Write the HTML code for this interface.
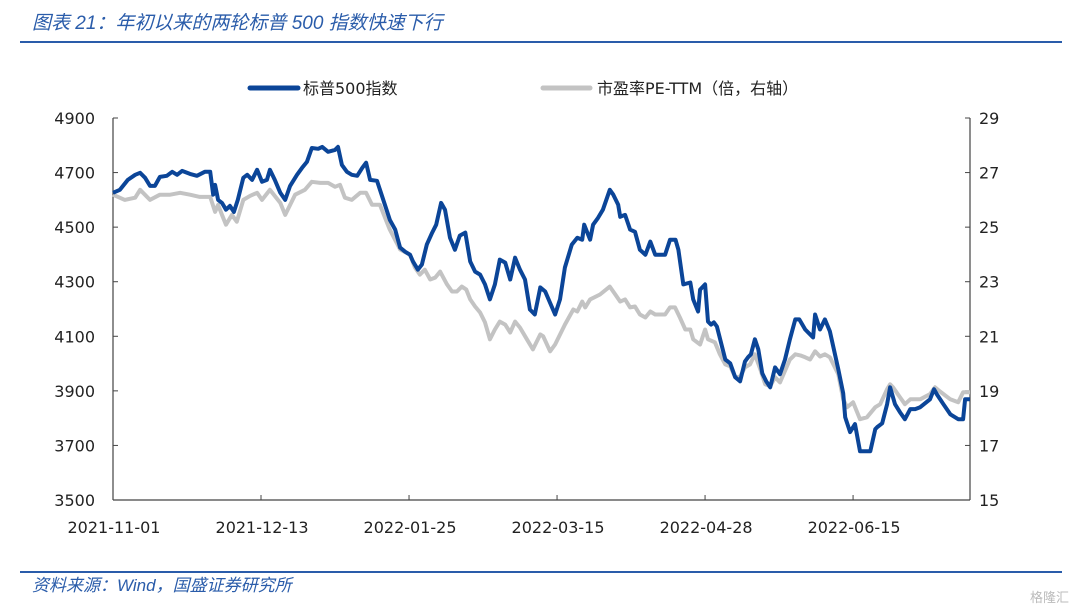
<!DOCTYPE html>
<html><head><meta charset="utf-8">
<style>
body{margin:0;width:1080px;height:613px;background:#fff;overflow:hidden;font-family:"Liberation Sans","Noto Sans CJK SC",sans-serif;}
svg{display:block}
.lab{font-family:"DejaVu Sans","Noto Sans CJK SC",sans-serif;}
</style></head><body>
<svg id="chart" width="1080" height="613">
<text x="32" y="29" font-size="19" font-style="italic" fill="#2a5caa" font-family="Liberation Sans, Noto Sans CJK SC, sans-serif">图表 21：年初以来的两轮标普 500 指数快速下行</text>
<rect x="20" y="41" width="1042" height="2" fill="#2a5caa"/>
<rect x="20" y="571" width="1042" height="2" fill="#2a5caa"/>
<text x="32" y="591" font-size="17" font-style="italic" fill="#2a5caa">资料来源：Wind，国盛证券研究所</text>
<text x="1030" y="602" font-size="13" fill="#bbb">格隆汇</text>
<g>
<line x1="250" y1="88" x2="298" y2="88" stroke="#0b4598" stroke-width="5" stroke-linecap="round"/>
<text class="lab" x="303" y="94" font-size="16" fill="#222">标普500指数</text>
<line x1="543" y1="88" x2="590" y2="88" stroke="#c3c3c3" stroke-width="5" stroke-linecap="round"/>
<text class="lab" x="597" y="94" font-size="16" fill="#222">市盈率PE-TTM（倍，右轴）</text>
</g>
<g id="axes" class="lab"></g>
<g id="series"></g>
</svg>
<script>
const xTickDays=[0,30,60,90,120,150];
const xTickLabels=["2021-11-01","2021-12-13","2022-01-25","2022-03-15","2022-04-28","2022-06-15"];
const leftTicks=[3500,3700,3900,4100,4300,4500,4700,4900];
const rightTicks=[15,17,19,21,23,25,27,29];
const spxDays=[0,1.4,3,4.5,5.5,6.5,7.5,8.5,9.5,10.9,12,13,14,15.6,17,18.6,19.7,20.3,20.7,21.3,22.1,22.9,23.7,24.5,25.3,26.4,27.2,28.2,29.2,30.2,31.2,31.8,32.8,33.9,34.9,35.9,37.3,38.3,39.3,40.3,41.6,42.4,43.6,45,45.6,46.4,47.4,48.4,49.5,50.5,51.3,52.1,53.5,55.1,56.1,57.2,58.2,59.2,60.2,60.8,61.8,62.6,63.6,64.7,65.5,66.5,67.3,68.3,69.3,70.3,71.4,72.4,73.4,74.4,75.4,76.4,77.4,78.4,79.5,80.5,81.5,82.5,83.5,84.5,85.5,86.6,87.6,89.6,90.6,91.6,93,94.1,95.1,95.5,96.7,97.3,98.3,99.3,100.7,101.4,102.4,102.8,103.8,104.8,105.8,106.8,107.9,108.9,109.9,111.9,112.9,114,114.6,115.6,117,117.6,118.6,119,120,120.6,121.2,121.8,122.4,124.1,125.1,126.1,127.1,128.1,128.7,129.3,130.1,130.8,131.6,132.4,133.2,134.2,135.2,136.2,137.2,138.3,139.1,140.3,141.9,142.3,143.3,144.3,145.3,147,148,148.4,149.4,150.4,151.4,152.4,153.5,154.5,154.9,155.9,156.9,157.5,158.5,159.5,160.5,161.6,162.6,163.6,165.6,166.4,167,168.3,169.7,171.3,172.3,172.7,173.7];
const spxValues=[4626,4637,4673,4692,4699,4681,4651,4651,4684,4688,4703,4692,4706,4695,4688,4703,4703,4619,4655,4600,4589,4564,4578,4556,4600,4681,4692,4673,4710,4666,4673,4710,4673,4626,4600,4651,4692,4717,4739,4790,4787,4794,4776,4783,4794,4728,4703,4692,4688,4717,4736,4673,4670,4582,4527,4491,4425,4410,4399,4374,4344,4363,4436,4480,4509,4589,4564,4461,4417,4469,4480,4374,4337,4326,4290,4235,4290,4381,4370,4308,4388,4344,4308,4198,4180,4279,4264,4180,4235,4352,4436,4461,4454,4509,4454,4509,4534,4564,4637,4619,4582,4538,4545,4491,4483,4417,4399,4447,4399,4399,4454,4454,4417,4290,4297,4235,4191,4271,4290,4154,4143,4151,4136,4015,4001,3950,3935,4008,4023,4034,4089,4052,3964,3935,3913,3986,3961,4015,4089,4162,4162,4125,4096,4180,4125,4162,4118,3979,3891,3803,3749,3778,3679,3679,3679,3760,3767,3781,3851,3913,3851,3822,3796,3833,3833,3840,3869,3906,3887,3851,3814,3796,3796,3869,3869];
const peDays=[0,2.4,4.5,5.5,7.5,9.5,11.6,13.6,15.6,17.6,19.7,20.7,21.3,22.1,22.9,24.1,25.1,26.4,27.8,29.2,30.2,31.8,33.9,34.9,36.9,38.9,40.3,42,43.6,45,46,47,48.4,50.1,51.3,52.5,54.1,56.1,58.2,60.2,61.2,62.2,63.2,64.3,65.3,66.3,67.7,68.7,69.7,70.7,71.6,72.4,73.4,74.4,75.4,76.4,77.4,78.4,79.5,80.5,81.5,82.5,83.9,85.1,86.6,87.2,88.6,89.6,91.6,93.3,94.1,95.1,95.7,96.7,98.7,100.7,101.8,102.8,103.8,104.8,105.8,106.8,107.9,108.9,109.9,111.9,112.9,113.9,114.9,116,117,117.6,119,120,120.6,122,123,124.1,125.1,126.1,127.1,128.1,129.1,130.1,131.2,132.2,133.2,134.2,135.2,137.2,138.3,139.3,140.3,141.3,142.3,143.3,144.3,145.3,147,148,148.8,150,151.4,152.8,154.5,155.5,156.9,157.5,158.1,159.5,160.5,161.6,163.6,165.6,166.6,167.6,169.7,171.3,172.3,173.7];
const peValues=[26.19,26.00,26.08,26.37,26.00,26.19,26.19,26.26,26.19,26.11,26.11,25.56,25.82,25.45,25.09,25.45,25.20,26.00,26.15,26.26,26.00,26.37,25.89,25.45,26.19,26.37,26.66,26.62,26.62,26.48,26.55,26.08,26.00,26.26,26.26,25.82,25.82,24.91,24.18,23.99,23.52,23.26,23.44,23.08,23.15,23.37,22.90,22.64,22.64,22.82,22.71,22.35,22.09,21.87,21.51,20.89,21.25,21.54,21.43,21.14,21.54,21.32,20.89,20.52,21.07,21.00,20.45,20.70,21.43,21.98,21.91,22.27,22.06,22.35,22.53,22.82,22.53,22.27,22.35,22.06,22.09,21.80,21.69,21.91,21.80,21.80,22.06,22.06,21.69,21.25,21.25,20.89,20.70,21.25,20.89,20.78,20.34,19.97,19.90,19.50,19.53,19.86,19.97,20.34,19.79,19.24,19.17,19.50,19.31,20.15,20.34,20.30,20.23,20.15,20.45,20.26,20.34,20.23,19.61,18.69,18.40,18.58,17.96,18.03,18.40,18.51,19.06,19.24,19.13,18.77,18.51,18.69,18.69,18.88,19.13,18.98,18.69,18.58,18.95,18.95];

const NS="http://www.w3.org/2000/svg";
const X0=113,X1=970,Y0=118,Y1=500,DMAX=173.7;
function xs(d){return X0+d/DMAX*(X1-X0);}
function yl(v){return Y1-(v-3500)/1400*(Y1-Y0);}
function yr(v){return Y1-(v-15)/14*(Y1-Y0);}
function mk(tag,at,parent){const e=document.createElementNS(NS,tag);for(const k in at)e.setAttribute(k,at[k]);parent.appendChild(e);return e;}
const axes=document.getElementById('axes'),ser=document.getElementById('series');
let e;
e=mk('line',{x1:X0,y1:Y0,x2:X0,y2:Y1,stroke:'#444','stroke-width':1.2},axes);


e=mk('line',{x1:X1,y1:Y0,x2:X1,y2:Y1,stroke:'#444','stroke-width':1.2},axes);


e=mk('line',{x1:X0,y1:Y1,x2:X1,y2:Y1,stroke:'#444','stroke-width':1.2},axes);


leftTicks.forEach(v=>{const y=yl(v);
 mk('line',{x1:X0,y1:y,x2:X0+5,y2:y,stroke:'#444'},axes);
 e=mk('text',{x:95,y:y+6,'text-anchor':'end','font-size':16,fill:'#222'},axes);e.textContent=v;
 
 });
rightTicks.forEach(v=>{const y=yr(v);
 mk('line',{x1:X1-5,y1:y,x2:X1,y2:y,stroke:'#444'},axes);
 e=mk('text',{x:979,y:y+6,'font-size':16,fill:'#222'},axes);e.textContent=v;
 
 });
xTickDays.forEach((d,i)=>{const x=xs(d);
 mk('line',{x1:x,y1:Y1-5,x2:x,y2:Y1,stroke:'#444'},axes);
 e=mk('text',{x:x+1,y:533,'text-anchor':'middle','font-size':16,fill:'#222'},axes);e.textContent=xTickLabels[i];
 
 });
e=mk('polyline',{points:peDays.map((d,i)=>xs(d).toFixed(1)+','+yr(peValues[i]).toFixed(1)).join(' '),fill:'none',stroke:'#c3c3c3','stroke-width':4,'stroke-linejoin':'round'},ser);


e=mk('polyline',{points:spxDays.map((d,i)=>xs(d).toFixed(1)+','+yl(spxValues[i]).toFixed(1)).join(' '),fill:'none',stroke:'#0b4598','stroke-width':4,'stroke-linejoin':'round'},ser);


</script>
</body></html>
